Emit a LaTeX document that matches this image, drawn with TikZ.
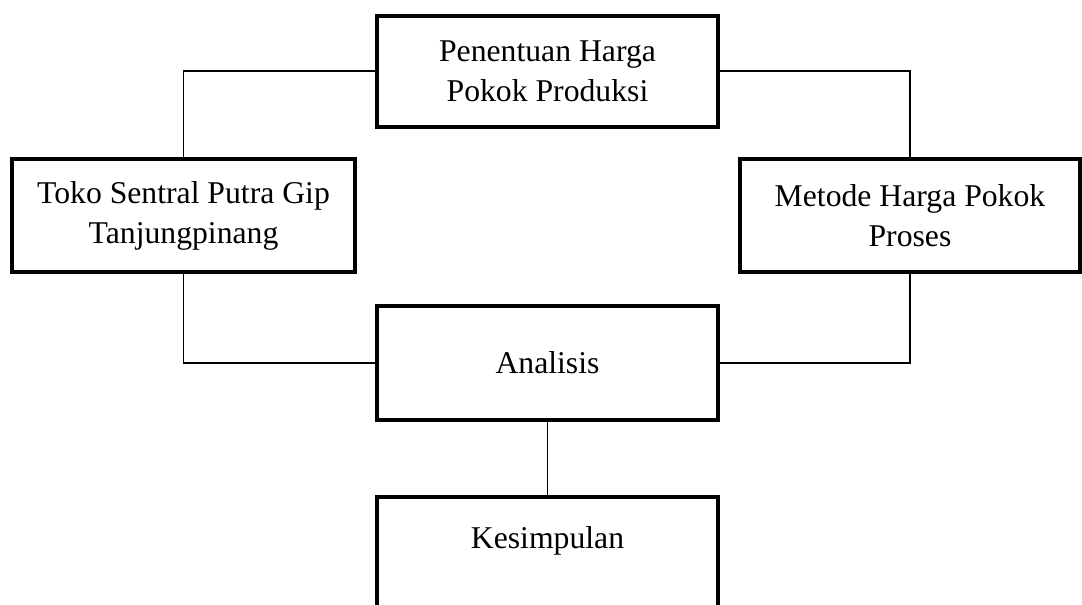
\documentclass[tikz,border=0pt]{standalone}
\usepackage{fontspec}
\setmainfont{Liberation Serif}
\begin{document}
\begin{tikzpicture}[x=1pt,y=-1pt,
  boxnode/.style={draw=black, line width=4pt, rectangle, align=center, inner sep=0pt,
    font=\fontsize{31.7}{40}\selectfont},
  conn/.style={draw=black, line width=1.2pt}]
\useasboundingbox (0,0) rectangle (1082,605);
\node[boxnode, minimum width=341pt, minimum height=111pt] (top) at (547.5,71) {Penentuan Harga\\Pokok Produksi};
\node[boxnode, minimum width=343pt, minimum height=113pt] (left) at (183.5,215.5) {Toko Sentral Putra Gip\\Tanjungpinang};
\node[boxnode, minimum width=340pt, minimum height=113pt] (right) at (910,215.5) {Metode Harga Pokok\\Proses};
\node[boxnode, minimum width=341pt, minimum height=114pt] (ana) at (547.5,363) {Analisis};
\node[boxnode, minimum width=341pt, minimum height=132pt, anchor=north] (kes) at (547.5,495) {Kesimpulan\\\strut};
\draw[conn] (top.west) -| (left.north);
\draw[conn] (top.east) -| (right.north);
\draw[conn] (left.south) |- (ana.west);
\draw[conn] (right.south) |- (ana.east);
\draw[conn] (ana.south) -- (kes.north);
\end{tikzpicture}
\end{document}
